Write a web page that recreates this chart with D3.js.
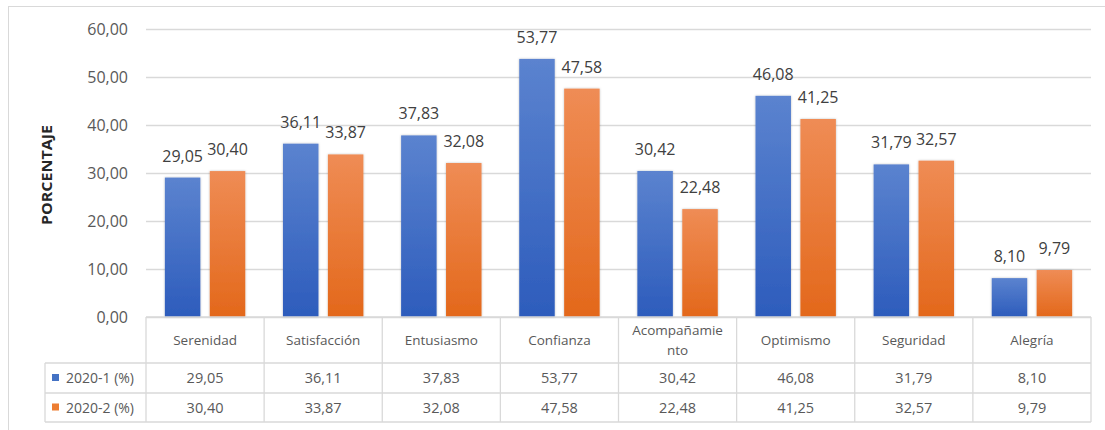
<!DOCTYPE html>
<html>
<head>
<meta charset="utf-8">
<script src="https://cdn.jsdelivr.net/npm/d3@7"></script>
<style>
  body { margin: 0; background: #fff; }
  text { font-family: "Open Sans", "Noto Sans", sans-serif; }
</style>
</head>
<body>
<div id="chart"></div>
<script>
// data
const categories = ["Serenidad", "Satisfacción", "Entusiasmo", "Confianza", "Acompañamiento", "Optimismo", "Seguridad", "Alegría"];
const serie1 = [29.05, 36.11, 37.83, 53.77, 30.42, 46.08, 31.79, 8.10];
const serie2 = [30.40, 33.87, 32.08, 47.58, 22.48, 41.25, 32.57, 9.79];
const seriesNames = ["2020-1 (%)", "2020-2 (%)"];
const yTicks = [0, 10, 20, 30, 40, 50, 60];
const yTitle = "PORCENTAJE";

const W = 1105, H = 430;
const plotLeft = 146, plotRight = 1091, plotTop = 29, plotBottom = 317;
const legendLeft = 45;
const rowH = [46, 30, 29];   // header, serie 1, serie 2

const fmt = v => d3.format(".2f")(v).replace(".", ",");

const svg = d3.select("#chart").append("svg")
  .attr("width", W)
  .attr("height", H);

// gradients for the bars
const defs = svg.append("defs");
const grads = [
  { id: "gBlue", top: "#5b83cf", bottom: "#2d5cbc" },
  { id: "gOrange", top: "#ef8c55", bottom: "#e3681b" }
];
grads.forEach(g => {
  const lg = defs.append("linearGradient").attr("id", g.id)
    .attr("x1", 0).attr("y1", 0).attr("x2", 0).attr("y2", 1);
  lg.append("stop").attr("offset", "0%").attr("stop-color", g.top);
  lg.append("stop").attr("offset", "100%").attr("stop-color", g.bottom);
});
const shadow = defs.append("filter").attr("id", "shadow")
  .attr("x", "-20%").attr("y", "-10%").attr("width", "140%").attr("height", "120%");
shadow.append("feDropShadow").attr("dx", 0).attr("dy", 0).attr("stdDeviation", 1.2)
  .attr("flood-color", "#000").attr("flood-opacity", 0.25);

// outer frame
svg.append("rect")
  .attr("x", 8.5).attr("y", 6.5)
  .attr("width", 1110).attr("height", 440)
  .attr("fill", "none").attr("stroke", "#d9d9d9");

// scales
const x = d3.scaleBand()
  .domain(categories)
  .range([plotLeft, plotRight])
  .paddingInner(0).paddingOuter(0);

const y = d3.scaleLinear()
  .domain([0, 60])
  .range([plotBottom, plotTop]);

const inner = d3.scaleBand()
  .domain([0, 1])
  .range([0, x.bandwidth()])
  .paddingInner(0.21)
  .paddingOuter(0.42);

// gridlines + y labels
const yAxis = svg.append("g")
  .attr("transform", `translate(${plotLeft},0)`)
  .call(d3.axisLeft(y).tickValues(yTicks).tickFormat(fmt)
    .tickSize(-(plotRight - plotLeft)).tickPadding(18));
yAxis.select(".domain").remove();
yAxis.selectAll(".tick line").attr("stroke", "#d9d9d9").attr("stroke-width", 1.3);
yAxis.selectAll(".tick text")
  .attr("fill", "#595959")
  .style("font-size", "16px");

// y title
svg.append("text")
  .attr("transform", `translate(52,${(plotTop + plotBottom) / 2 + 2}) rotate(-90)`)
  .attr("text-anchor", "middle")
  .attr("fill", "#262626")
  .style("font-size", "13.5px")
  .style("font-weight", "bold")
  .attr("textLength", 100)
  .attr("lengthAdjust", "spacingAndGlyphs")
  .text(yTitle);

// bars
const series = [serie1, serie2];
const fills = ["url(#gBlue)", "url(#gOrange)"];
const solid = ["#4472c4", "#ed7d31"];

series.forEach((vals, s) => {
  svg.append("g").selectAll("rect")
    .data(vals)
    .join("rect")
      .attr("x", (d, i) => x(categories[i]) + inner(s))
      .attr("y", d => y(d))
      .attr("width", inner.bandwidth())
      .attr("height", d => y(0) - y(d))
      .attr("fill", fills[s])
      .attr("filter", "url(#shadow)");

  svg.append("g").selectAll("text")
    .data(vals)
    .join("text")
      .attr("x", (d, i) => x(categories[i]) + inner(s) + inner.bandwidth() / 2)
      .attr("y", d => y(d) - 16)
      .attr("text-anchor", "middle")
      .attr("fill", "#404040")
      .style("font-size", "16px")
      .text(d => fmt(d));
});

// data table
const tableTop = plotBottom;
const rowY = [tableTop, tableTop + rowH[0], tableTop + rowH[0] + rowH[1], tableTop + rowH[0] + rowH[1] + rowH[2]];
const grid = svg.append("g").attr("stroke", "#d9d9d9").attr("stroke-width", 1.3);

// horizontal lines
grid.append("line").attr("x1", plotLeft).attr("x2", plotRight).attr("y1", rowY[0]).attr("y2", rowY[0]);
[1, 2, 3].forEach(r => {
  grid.append("line").attr("x1", legendLeft).attr("x2", plotRight).attr("y1", rowY[r]).attr("y2", rowY[r]);
});
// vertical lines
categories.forEach(c => {
  grid.append("line").attr("x1", x(c)).attr("x2", x(c)).attr("y1", rowY[0]).attr("y2", rowY[3]);
});
grid.append("line").attr("x1", plotRight).attr("x2", plotRight).attr("y1", rowY[0]).attr("y2", rowY[3]);
grid.append("line").attr("x1", legendLeft).attr("x2", legendLeft).attr("y1", rowY[1]).attr("y2", rowY[3]);

// category labels (wrapped when too wide)
const catG = svg.append("g");
categories.forEach(c => {
  const cx = x(c) + x.bandwidth() / 2;
  const t = catG.append("text")
    .attr("x", cx)
    .attr("text-anchor", "middle")
    .attr("fill", "#595959")
    .style("font-size", "13.5px")
    .text(c);
  const maxW = x.bandwidth() - 21;
  if (t.node().getComputedTextLength() > maxW) {
    // break by characters like Excel does
    let line = "";
    const lines = [];
    for (const ch of c) {
      t.text(line + ch);
      if (t.node().getComputedTextLength() > maxW) { lines.push(line); line = ch; }
      else line += ch;
    }
    lines.push(line);
    t.text(null);
    lines.forEach((l, k) => {
      t.append("tspan").attr("x", cx)
        .attr("y", rowY[0] + rowH[0] / 2 - 10 * (lines.length - 1) + k * 20 + 5)
        .text(l);
    });
  } else {
    t.attr("y", rowY[0] + rowH[0] / 2 + 5);
  }
});

// legend column + values
series.forEach((vals, s) => {
  const cy = (rowY[s + 1] + rowY[s + 2]) / 2;
  svg.append("rect")
    .attr("x", 52).attr("y", cy - 4)
    .attr("width", 7).attr("height", 7)
    .attr("fill", solid[s]);
  svg.append("text")
    .attr("x", 66).attr("y", cy + 5)
    .attr("fill", "#595959")
    .style("font-size", "14px")
    .text(seriesNames[s]);
  svg.append("g").selectAll("text")
    .data(vals)
    .join("text")
      .attr("x", (d, i) => x(categories[i]) + x.bandwidth() / 2)
      .attr("y", cy + 5)
      .attr("text-anchor", "middle")
      .attr("fill", "#595959")
      .style("font-size", "14.5px")
      .text(d => fmt(d));
});
</script>
</body>
</html>
